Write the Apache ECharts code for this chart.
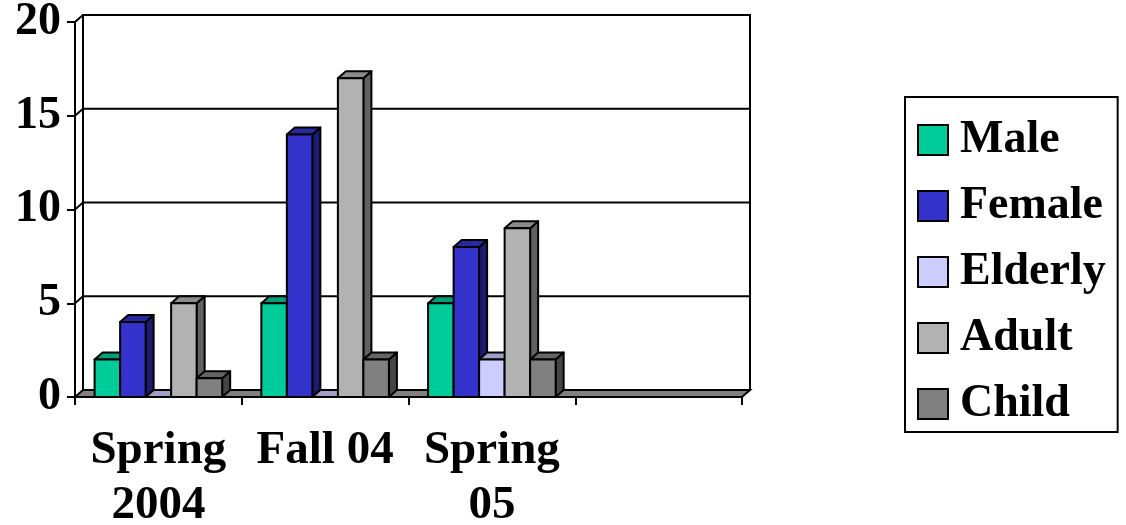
<!DOCTYPE html>
<html>
<head>
<meta charset="utf-8">
<script src="https://cdn.jsdelivr.net/npm/echarts@6/dist/echarts.min.js"></script>
<style>
  html, body { margin: 0; padding: 0; background: #fff; }
  #chart { width: 1126px; height: 525px; }
</style>
</head>
<body>
<div id="chart"></div>
<script>
// Categories along the x axis (last slot is left empty)
const categories = ['Spring\n2004', 'Fall 04', 'Spring\n05', ''];

// Counts per group for each term
const male    = [2, 5, 5];
const female  = [4, 14, 8];
const elderly = [0, 0, 2];
const adult   = [5, 17, 9];
const child   = [1, 2, 2];

const yTicks = [0, 5, 10, 15, 20];

const seriesDefs = [
  { name: 'Male',    data: male,    color: '#00CC99' },
  { name: 'Female',  data: female,  color: '#3333CC' },
  { name: 'Elderly', data: elderly, color: '#CCCCFF' },
  { name: 'Adult',   data: adult,   color: '#B2B2B2' },
  { name: 'Child',   data: child,   color: '#808080' }
];

// pseudo-3D depth offset of the chart box and bars (pixels)
const DX = 8, DY = -7;
const BAR_FRACTION = 0.153;
const FONT = '"Liberation Serif", "Times New Roman", serif';

function shade(hex, f) {
  const n = parseInt(hex.slice(1), 16);
  const r = Math.round(((n >> 16) & 255) * f);
  const g = Math.round(((n >> 8) & 255) * f);
  const b = Math.round((n & 255) * f);
  return 'rgb(' + r + ',' + g + ',' + b + ')';
}

const edge = { stroke: '#000', lineWidth: 2, lineJoin: 'round' };

function barRenderer(idx, color) {
  return function (params, api) {
    const cat = api.value(0), val = api.value(1);
    const p0 = api.coord([cat, 0]);
    const p1 = api.coord([cat, val]);
    const band = api.size([1, 0])[0];
    const w = band * BAR_FRACTION;
    const x0 = p0[0] + (idx - 2.5) * w;
    const x1 = x0 + w;
    const yb = p0[1], yt = p1[1];
    return {
      type: 'group',
      children: [
        { type: 'polygon', shape: { points: [[x1, yb], [x1 + DX, yb + DY], [x1 + DX, yt + DY], [x1, yt]] },
          style: Object.assign({ fill: shade(color, 0.55) }, edge) },
        { type: 'polygon', shape: { points: [[x0, yt], [x1, yt], [x1 + DX, yt + DY], [x0 + DX, yt + DY]] },
          style: Object.assign({ fill: shade(color, 0.78) }, edge) },
        { type: 'rect', shape: { x: x0, y: yt, width: w, height: yb - yt },
          style: Object.assign({ fill: color }, edge) }
      ]
    };
  };
}

// back wall, side wall, gridlines and floor
function frameRenderer(params, api) {
  const cs = params.coordSys;
  const L = cs.x, R = cs.x + cs.width, T = cs.y, B = cs.y + cs.height;
  const children = [
    { type: 'rect', shape: { x: L + DX, y: T + DY, width: R - L, height: B - T },
      style: { fill: '#fff', stroke: '#000', lineWidth: 2 } }
  ];
  yTicks.forEach(function (v) {
    if (v === 0) return;
    const y = api.coord([0, v])[1];
    children.push({ type: 'polyline', shape: { points: [[L, y], [L + DX, y + DY], [R + DX, y + DY]] },
      style: { stroke: '#000', lineWidth: 2, fill: null } });
  });
  children.push({ type: 'polygon', shape: { points: [[L, B], [R, B], [R + DX, B + DY], [L + DX, B + DY]] },
    style: { fill: '#808080', stroke: '#000', lineWidth: 2 } });
  children.push({ type: 'line', shape: { x1: L, y1: T, x2: L, y2: B }, style: { stroke: '#000', lineWidth: 2 } });
  return { type: 'group', children: children };
}

const series = [{
  type: 'custom',
  name: 'frame',
  z: 1,
  silent: true,
  clip: false,
  data: [[0, 0]],
  renderItem: frameRenderer
}];

seriesDefs.forEach(function (s, i) {
  series.push({
    type: 'custom',
    name: s.name,
    z: 2 + i,
    clip: false,
    itemStyle: { color: s.color, borderColor: '#000', borderWidth: 2 },
    data: s.data.map(function (v, c) { return [c, v]; }),
    encode: { x: 0, y: 1 },
    renderItem: barRenderer(i, s.color)
  });
});

const chart = echarts.init(document.getElementById('chart'), null, { renderer: 'canvas' });
chart.setOption({
  animation: false,
  backgroundColor: '#fff',
  grid: { left: 75, top: 22, right: 384, bottom: 128, containLabel: false, outerBoundsMode: 'none' },
  xAxis: {
    type: 'category',
    data: categories,
    boundaryGap: true,
    z: 10,
    axisLine: { show: true, lineStyle: { color: '#000', width: 2 } },
    axisTick: { show: true, length: 8, lineStyle: { color: '#000', width: 2 } },
    axisLabel: {
      margin: 26, interval: 0,
      fontFamily: FONT, fontWeight: 'bold', fontSize: 47, color: '#000', lineHeight: 55
    },
    splitLine: { show: false }
  },
  yAxis: {
    type: 'value',
    min: 0, max: 20, interval: 5,
    z: 10,
    axisLine: { show: true, lineStyle: { color: '#000', width: 2 } },
    axisTick: { show: true, length: 8, lineStyle: { color: '#000', width: 2 } },
    axisLabel: { margin: 14, fontFamily: FONT, fontWeight: 'bold', fontSize: 46, color: '#000' },
    splitLine: { show: false }
  },
  legend: {
    data: seriesDefs.map(function (s) { return s.name; }),
    orient: 'vertical',
    left: 905, top: 97,
    padding: [20, 12, 5, 12],
    itemWidth: 30, itemHeight: 30, itemGap: 20,
    icon: 'rect',
    borderColor: '#000', borderWidth: 2,
    backgroundColor: '#fff',
    itemStyle: { borderColor: '#000', borderWidth: 2 },
    textStyle: { fontFamily: FONT, fontWeight: 'bold', fontSize: 46, color: '#000', lineHeight: 46, padding: [0, 0, 0, 7] },
    selectedMode: false
  },
  series: series
});
</script>
</body>
</html>
